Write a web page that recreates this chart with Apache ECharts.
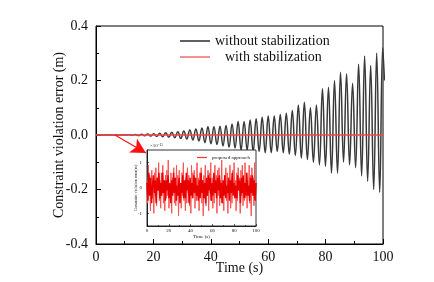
<!DOCTYPE html>
<html><head><meta charset="utf-8">
<script src="https://cdn.jsdelivr.net/npm/echarts@6/dist/echarts.min.js"></script>
<style>html,body{margin:0;padding:0;background:#fff}#c{width:434px;height:282px}</style>
</head><body><div id="c"></div>
<script>
// Main chart: extrema of the unstabilized constraint violation error (time s, value m)
var blackT = [0, 10.8, 11.7, 12.75, 13.8, 14.85, 15.9, 16.95, 18.0, 19.05, 20.1, 21.15, 22.2, 23.25, 24.3, 25.35, 26.4, 27.45, 28.5, 29.55, 30.6, 31.65, 32.7, 33.75, 34.8, 35.85, 36.9, 37.95, 39.0, 40.05, 41.1, 42.15, 43.2, 44.25, 45.3, 46.35, 47.4, 48.45, 49.5, 50.55, 51.6, 52.65, 53.7, 54.75, 55.8, 56.85, 57.9, 58.95, 60.0, 61.05, 62.1, 63.15, 64.2, 65.25, 66.3, 67.35, 68.4, 69.45, 70.5, 71.55, 72.6, 73.65, 74.7, 75.75, 76.8, 77.85, 78.9, 79.95, 81.0, 82.05, 83.1, 84.15, 85.2, 86.25, 87.3, 88.35, 89.4, 90.45, 91.5, 92.55, 93.6, 94.65, 95.7, 96.75, 97.8, 98.85, 99.9, 100.5];
var blackV = [0, 0, 0.001,-0.001, 0.002,-0.002, 0.003,-0.003, 0.004,-0.004, 0.005,-0.005, 0.006,-0.006, 0.008,-0.008, 0.010,-0.010, 0.012,-0.013, 0.015,-0.015, 0.018,-0.018, 0.022,-0.022, 0.026,-0.028, 0.030,-0.032, 0.030,-0.035, 0.032,-0.040, 0.035,-0.045, 0.040,-0.048, 0.050,-0.055, 0.050,-0.055, 0.055,-0.060, 0.060,-0.060, 0.065,-0.065, 0.070,-0.065, 0.070,-0.060, 0.075,-0.065, 0.080,-0.070, 0.090,-0.075, 0.110,-0.085, 0.120,-0.090, 0.100,-0.100, 0.110,-0.110, 0.170,-0.115, 0.175,-0.140, 0.200,-0.140, 0.230,-0.100, 0.225,-0.110, 0.190,-0.120, 0.260,-0.150, 0.290,-0.170, 0.255,-0.200, 0.300,-0.210, 0.320, 0.20];
var redT = [0, 100];
var redV = [0, 0];
var arrowFrom = [6.6, 0.0];
var arrowTo = [17.4, -0.066];

// Inset: proposed approach (×10^-15)
var noiseWide = [0.3,-0.6,0.9,-0.2,0.5,-0.9,0.1,0.7,-0.4,0.2,-1.0,0.6,-0.3,0.8,-0.7,0.4,-0.1,1.0,-0.5,0.3,-0.8,0.6,-0.2,0.9,-0.6,0.1,-0.9,0.5,-0.4,0.7,-0.3,1.1,-0.8,0.2,-0.5,0.6,-1.0,0.4,-0.1,0.8,-0.6,0.3,-0.7,0.9,-0.2,0.5,-1.1,0.7,-0.4,0.2,-0.8,0.6,-0.3,1.0,-0.5,0.1,-0.9,0.4,-0.6,0.8,-0.2,0.5,-0.7,0.3,-1.0,0.9,-0.4,0.6,-0.1,0.7,-0.8,0.2,-0.5,1.0,-0.3,0.4,-0.9,0.6,-0.2,0.8,-0.6,0.3,-1.1,0.5,-0.4,0.9,-0.7,0.1,-0.3,0.7,-0.9,0.6,-0.2,1.0,-0.5,0.4,-0.8,0.2,-0.6,0.9,-0.1,0.5,-1.0,0.7,-0.3,0.8,-0.7,0.3,-0.4,1.1,-0.6,0.2,-0.9,0.5,-0.2,0.8,-0.5,0.6,-1.0,0.4,-0.3,0.9,-0.8,0.1,-0.6,0.7,-0.2,1.0,-0.4,0.3,-0.9,0.6,-0.5,0.8,-0.1,0.4,-1.0,0.7,-0.3,0.9,-0.7,0.2,-0.5,1.0,-0.4,0.6,-0.8,0.3,-0.2,0.9,-0.6,0.5,-1.1,0.8,-0.3,0.4,-0.7,1.0,-0.5,0.2];
var noiseCore = [0.2,-0.5,0.6,-0.3,0.4,-0.6,0.1,0.5,-0.2,0.3,-0.6,0.4,-0.1,0.6,-0.4,0.2,-0.3,0.6,-0.2,0.3,-0.5,0.3,-0.1,0.5,-0.4,0.2,-0.6,0.3,-0.3,0.6,-0.2,0.4,-0.5,0.1,-0.3,0.4,-0.6,0.2,-0.2,0.5,-0.4,0.3,-0.4,0.6,-0.1,0.3,-0.6,0.4,-0.3,0.2,-0.4,0.5,-0.2,0.4,-0.3,0.1,-0.5,0.3,-0.4,0.6,-0.2,0.3,-0.4,0.2,-0.6,0.4,-0.3,0.5,-0.1,0.4,-0.5,0.2,-0.3,0.6,-0.2,0.3,-0.4,0.4,-0.1,0.5,-0.4,0.2,-0.6,0.3,-0.3,0.5,-0.4,0.1,-0.2,0.4,-0.5,0.3,-0.2,0.6,-0.3,0.2,-0.4,0.1,-0.4,0.5,-0.1,0.3,-0.6,0.4,-0.2,0.5,-0.4,0.2,-0.3,0.6,-0.3,0.1,-0.5,0.4,-0.2,0.5,-0.3,0.3,-0.5,0.2];

function pairs(t, v) { return t.map(function (x, i) { return [x, v[i]]; }); }
function spread(v) { return v.map(function (y, i) { return [i * 100 / (v.length - 1), y]; }); }

var serif = 'Liberation Serif';
var chart = echarts.init(document.getElementById('c'), null, { renderer: 'canvas' });
chart.setOption({
  backgroundColor: '#fff',
  animation: false,
  grid: [
    { left: 96, right: 51, top: 26, bottom: 38, show: true, borderColor: '#000', borderWidth: 1, backgroundColor: 'transparent' },
    { left: 147, top: 150, width: 109, height: 76, show: true, borderColor: '#000', borderWidth: 0.8, backgroundColor: '#fff', z: 5 }
  ],
  legend: [
    { data: ['without stabilization'], left: 180, top: 34, padding: 0, icon: 'rect', itemWidth: 30, itemHeight: 1.6,
      textStyle: { fontFamily: serif, fontSize: 14, color: '#111' } },
    { data: ['with stabilization'], left: 180, top: 50, padding: 0, icon: 'rect', itemWidth: 30, itemHeight: 1.2,
      textStyle: { fontFamily: serif, fontSize: 14, color: '#111', padding: [0, 0, 0, 10] } },
    { data: ['proposed approach'], left: 197, top: 155, padding: 0, icon: 'rect', itemWidth: 10, itemHeight: 1.2, z: 8,
      textStyle: { fontFamily: serif, fontSize: 5, color: '#111' } }
  ],
  xAxis: [
    { type: 'value', gridIndex: 0, min: 0, max: 100, interval: 20,
      axisLine: { onZero: false, lineStyle: { color: '#000', width: 1 } },
      axisTick: { inside: true, length: 5, lineStyle: { color: '#000' } },
      minorTick: { show: true, splitNumber: 2, length: 3, lineStyle: { color: '#000' } },
      splitLine: { show: false },
      axisLabel: { fontFamily: serif, fontSize: 14, color: '#111', margin: 6 },
      name: 'Time (s)', nameLocation: 'middle', nameGap: 17, nameMoveOverlap: false,
      nameTextStyle: { fontFamily: serif, fontSize: 14, color: '#111' } },
    { type: 'value', gridIndex: 1, min: 0, max: 100, interval: 20, z: 6,
      axisLine: { onZero: false, lineStyle: { color: '#000', width: 0.8 } },
      axisTick: { inside: true, length: 2, lineStyle: { color: '#000', width: 0.6 } },
      minorTick: { show: true, splitNumber: 2, length: 1, lineStyle: { color: '#000', width: 0.6 } },
      splitLine: { show: false },
      axisLabel: { fontFamily: serif, fontSize: 5, color: '#111', margin: 2 },
      name: 'Time (s)', nameLocation: 'middle', nameGap: 8, nameMoveOverlap: false,
      nameTextStyle: { fontFamily: serif, fontSize: 5, color: '#111' } }
  ],
  yAxis: [
    { type: 'value', gridIndex: 0, min: -0.4, max: 0.4, interval: 0.2,
      axisLine: { show: true, onZero: false, lineStyle: { color: '#000', width: 1 } },
      axisTick: { show: true, inside: true, length: 5, lineStyle: { color: '#000' } },
      minorTick: { show: true, splitNumber: 2, length: 3, lineStyle: { color: '#000' } },
      splitLine: { show: false },
      axisLabel: { fontFamily: serif, fontSize: 14, color: '#111', margin: 8,
        formatter: function (v) { return v.toFixed(1); } },
      name: 'Constraint violation error (m)', nameLocation: 'middle', nameGap: 30, nameMoveOverlap: false,
      nameTextStyle: { fontFamily: serif, fontSize: 14, color: '#111' } },
    { type: 'value', gridIndex: 1, min: -1.5, max: 1.5, z: 6,
      axisLine: { show: true, onZero: false, lineStyle: { color: '#000', width: 0.8 } },
      axisTick: { show: true, inside: true, length: 2, lineStyle: { color: '#000', width: 0.6 }, customValues: [-1, 0, 1] },
      axisLabel: { fontFamily: serif, fontSize: 5, color: '#111', margin: 5, customValues: [-1, 0, 1] },
      splitLine: { show: false },
      name: 'Constraint violation error(m)', nameLocation: 'middle', nameGap: 9, nameMoveOverlap: false,
      nameTextStyle: { fontFamily: serif, fontSize: 4, color: '#111' } }
  ],
  graphic: [
    { type: 'text', left: 150, top: 143, z: 8,
      style: { text: '×10⁻¹⁵', fontFamily: serif, fontSize: 5, fill: '#333' } }
  ],
  series: [
    { name: 'without stabilization', type: 'line', xAxisIndex: 0, yAxisIndex: 0,
      data: pairs(blackT, blackV), showSymbol: false, smooth: 0.45, z: 2,
      lineStyle: { color: '#383838', width: 1.5 }, itemStyle: { color: '#383838' } },
    { name: 'with stabilization', type: 'line', xAxisIndex: 0, yAxisIndex: 0,
      data: pairs(redT, redV), showSymbol: false, z: 3,
      lineStyle: { color: '#ef4747', width: 1.5 }, itemStyle: { color: '#ef4747' },
      markLine: { silent: true, symbol: ['none', 'arrow'], symbolSize: [12, 15], animation: false,
        lineStyle: { color: '#ff1010', width: 1.1, type: 'solid' }, label: { show: false },
        data: [[{ coord: arrowFrom }, { coord: arrowTo }]] } },
    { name: 'proposed approach', type: 'line', xAxisIndex: 1, yAxisIndex: 1,
      data: spread(noiseWide), showSymbol: false, z: 7,
      lineStyle: { color: '#ff5050', width: 1.0 }, itemStyle: { color: '#ff3030' } },
    { name: 'core', type: 'line', xAxisIndex: 1, yAxisIndex: 1,
      data: spread(noiseCore), showSymbol: false, z: 7,
      lineStyle: { color: '#e80000', width: 1.5 }, itemStyle: { color: '#e80000' } }
  ]
});
</script></body></html>
